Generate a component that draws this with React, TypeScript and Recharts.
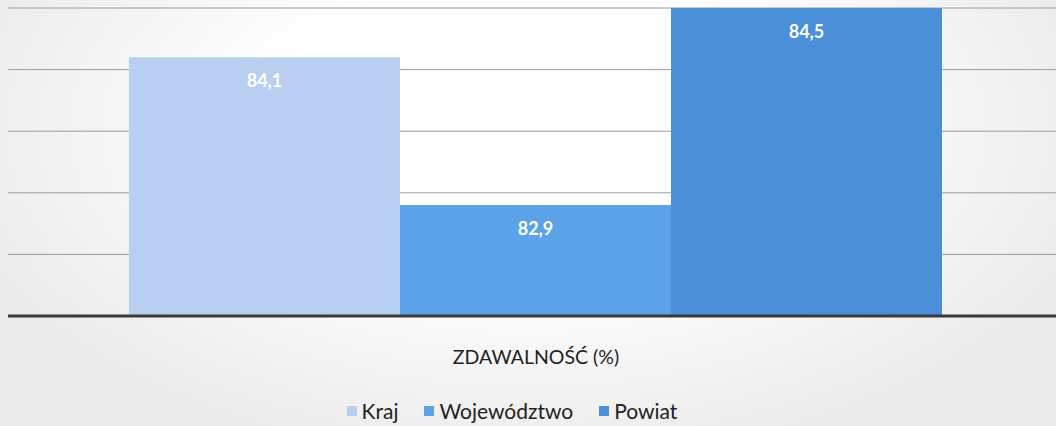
import { BarChart, Bar, XAxis, YAxis, CartesianGrid, Legend, LabelList } from 'recharts'

const categories = ['ZDAWALNOŚĆ (%)']
const seriesNames = ['Kraj', 'Województwo', 'Powiat']
const seriesKeys = ['kraj', 'woj', 'powiat']
const kraj = [84.1]
const woj = [82.9]
const powiat = [84.5]
const yTicks = [82, 82.5, 83, 83.5, 84, 84.5]

const colors = ['#b8cff1', '#5ba2e8', '#4a8fd8']
const font = 'Lato, "Open Sans", sans-serif'

const data = categories.map((name, i) => ({
  name,
  kraj: kraj[i],
  woj: woj[i],
  powiat: powiat[i],
}))

const fmt = (v: any) => String(v).replace('.', ',')

function LegendContent() {
  return (
    <div style={{ display: 'flex', justifyContent: 'center', gap: 26, fontFamily: font, fontSize: 21, color: '#222', paddingRight: 48 }}>
      {seriesNames.map((n, i) => (
        <div key={n} style={{ display: 'flex', alignItems: 'center' }}>
          <span style={{ width: 10, height: 10, background: colors[i], display: 'inline-block', marginRight: 5 }} />
          <span>{n}</span>
        </div>
      ))}
    </div>
  )
}

export default function App() {
  return (
    <div
      style={{
        position: 'absolute',
        left: 0,
        top: 0,
        width: 1056,
        height: 426,
        overflow: 'hidden',
        background: 'radial-gradient(ellipse at 50% 30%, #ffffff 35%, #ebebeb 80%)',
      }}
    >
      <BarChart
        width={1064}
        height={426}
        data={data}
        margin={{ top: 8, right: 0, left: 8, bottom: 0 }}
        barCategoryGap={121}
        barGap={0}
      >
        <CartesianGrid vertical={false} stroke="#9a9a9a" strokeWidth={1} />
        <YAxis hide domain={[82, 84.5]} ticks={yTicks} allowDataOverflow />
        <XAxis
          dataKey="name"
          axisLine={{ stroke: '#3a3a3a', strokeWidth: 3 }}
          tickLine={false}
          tickMargin={28}
          height={76}
          tick={{ fill: '#222', fontSize: 19.5, fontFamily: font }}
        />
        <Legend verticalAlign="bottom" height={34} wrapperStyle={{ bottom: -6 }} content={<LegendContent />} />
        {seriesKeys.map((k, i) => (
          <Bar key={k} dataKey={k} name={seriesNames[i]} fill={colors[i]} isAnimationActive={false}>
            <LabelList
              dataKey={k}
              position="insideTop"
              offset={17}
              formatter={fmt}
              fill="#ffffff"
              style={{ fontFamily: font, fontSize: 18, fontWeight: 700 }}
            />
          </Bar>
        ))}
      </BarChart>
    </div>
  )
}
